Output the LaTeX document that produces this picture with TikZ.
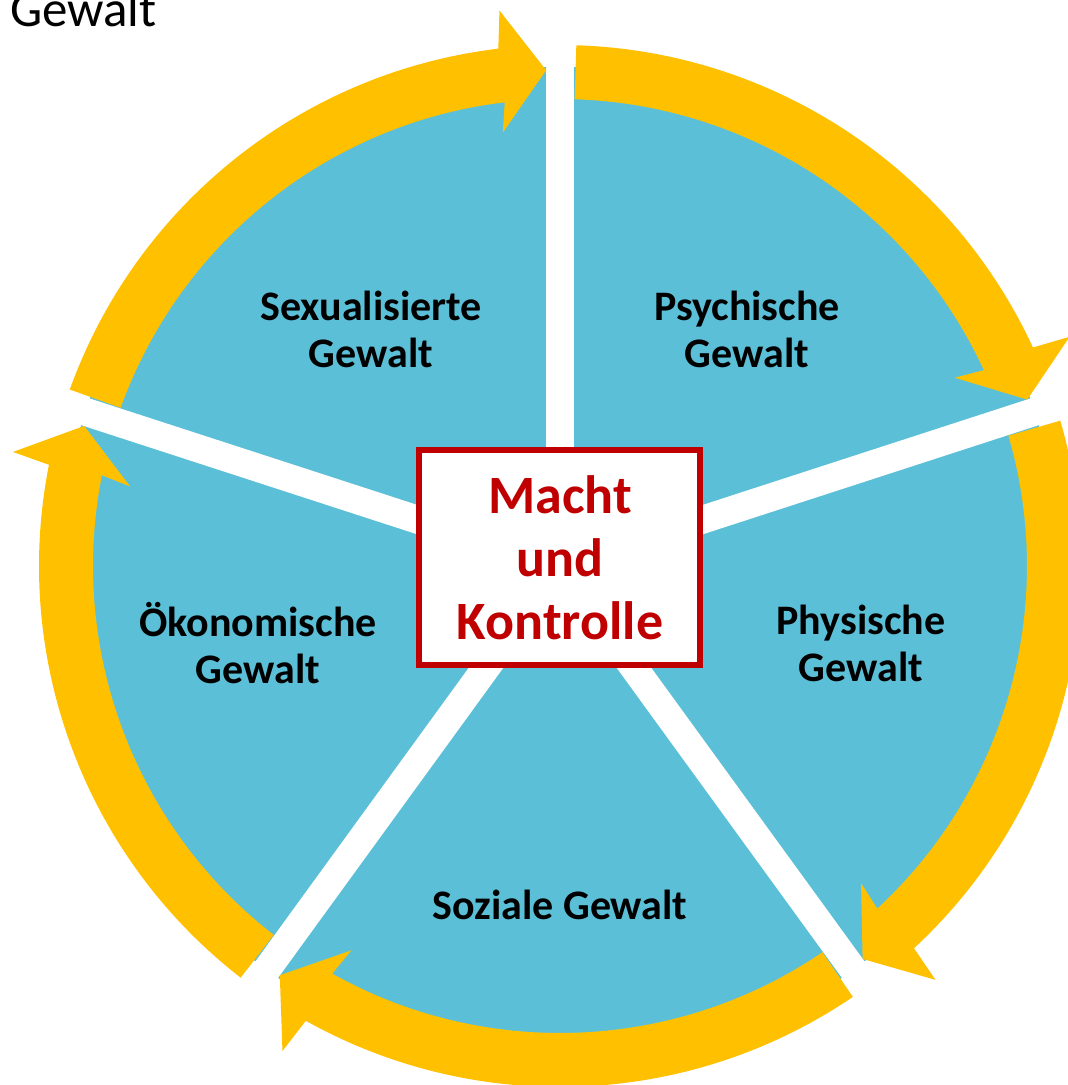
\documentclass[tikz,border=0pt]{standalone}
\usepackage{fontspec}
\setmainfont{Carlito}
\definecolor{ringblue}{RGB}{91,192,215}
\definecolor{ringyellow}{RGB}{255,192,0}
\definecolor{machtred}{RGB}{192,0,0}
\tikzset{
    formtext/.style={font=\fontsize{42}{47}\selectfont\bfseries, align=center, inner sep=0pt},
    kernbox/.style={draw=machtred, line width=6pt, fill=white, text=machtred,
        minimum width=281pt, minimum height=215pt, align=center,
        font=\fontsize{54}{63}\selectfont\bfseries}
}
% #1 tail angle, #2 tip angle (clockwise)
\newcommand{\ringarrow}[2]{
    \fill[ringyellow] (#1:521pt) arc[start angle=#1, end angle=#2+5.2, radius=521pt]
        -- ([shift={(#2+90:45pt)}]#2:557pt) -- (#2:496pt)
        -- ([shift={(#2+90:45pt)}]#2:435pt) -- (#2+5.2:467pt)
        arc[start angle=#2+5.2, end angle=#1, radius=467pt] -- cycle;
}

\begin{document}
\begin{tikzpicture}[x=1pt,y=1pt]
    \useasboundingbox (-560,-519) rectangle (508,566);
    \fill[ringblue] (0,0) circle[radius=499pt];
    \foreach \g in {162,90,18,-54,-126}
        \draw[white, line width=28pt] (0,0) -- (\g:506pt);
    \ringarrow{160.2}{91.6}
    \ringarrow{88.2}{19.6}
    \ringarrow{16.2}{-52.4}
    \ringarrow{-55.8}{-124.4}
    \ringarrow{-127.8}{-196.4}
    \node[formtext] (sexual) at (-189,237) {Sexualisierte\\Gewalt};
    \node[formtext] (psych) at (187,237) {Psychische\\Gewalt};
    \node[formtext] (phys) at (301,-77) {Physische\\Gewalt};
    \node[formtext] (oekon) at (-302,-77) {Ökonomische\\Gewalt};
    \node[formtext] (sozial) at (0,-339) {Soziale Gewalt};
    \node[kernbox] (kern) at (0,8.5) {Macht\\und\\Kontrolle};
    \node[anchor=base west, inner sep=0pt, font=\fontsize{51}{60}\selectfont] (titel) at (-550,539) {Gewalt};
\end{tikzpicture}
\end{document}
